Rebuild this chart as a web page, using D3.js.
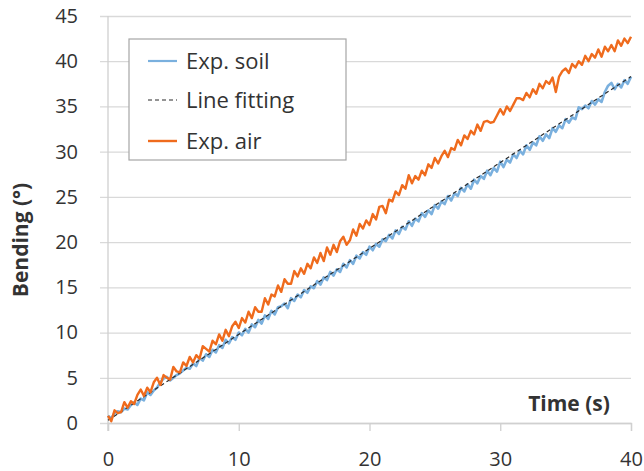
<!DOCTYPE html>
<html lang="en">
<head>
<meta charset="UTF-8">
<title>Bending vs time</title>
<style>
  body { margin: 0; background: #fff; }
  text { font-family: "Open Sans", Lato, sans-serif; fill: #333; }
</style>
</head>
<body>
<div id="chart"></div>
<script src="https://d3js.org/d3.v7.min.js"></script>
<script>
// samples every 0.25 s from 0 to 40 s
const timeStep = 0.25;
const expAir = [
  0.8, 0.2, 1.4, 1.1,   1.2, 2.3, 1.7, 2.4,   2.1, 3.1, 3.7, 3.0,   3.9, 3.4, 4.5, 5.0,
  4.2, 5.3, 5.0, 4.8,   6.2, 5.7, 5.6, 6.7,   6.3, 7.3, 6.7, 7.5,   7.1, 8.5, 8.2, 7.9,
  9.1, 8.7, 9.8, 9.1,   10.3, 9.6, 10.7, 11.2, 10.5, 11.6, 11.1, 12.3, 11.6, 12.8, 12.3, 12.3,
  13.8, 13.1, 14.2, 14.0, 15.2, 14.5, 15.9, 15.4, 15.4, 16.8, 16.2, 17.1, 16.5, 17.6, 17.1, 18.3,
  17.7, 18.8, 17.9, 19.4, 18.6, 19.7, 18.9, 20.1, 20.6, 19.7, 20.2, 21.4, 20.7, 22.0, 21.5, 22.4,
  21.9, 23.1, 22.5, 23.9, 24.0, 23.2, 24.7, 24.5, 25.6, 25.2, 26.3, 25.9, 27.4, 26.5, 27.3, 26.9,
  27.9, 27.4, 28.6, 28.2, 29.3, 28.7, 29.5, 30.1, 29.4, 30.4, 30.2, 31.3, 30.7, 31.8, 31.4, 32.3,
  31.9, 33.0, 32.3, 33.3, 33.4, 33.2, 33.3, 34.0, 34.7, 34.1, 35.0, 34.5, 35.2, 35.9, 35.9, 35.7,
  36.5, 36.0, 36.9, 36.4, 37.5, 37.0, 37.8, 37.5, 38.2, 36.6, 38.3, 38.9, 39.2, 38.7, 39.7, 39.3,
  40.0, 39.6, 40.6, 40.0, 40.8, 40.4, 41.3, 40.5, 41.6, 41.1, 41.8, 41.1, 42.3, 41.7, 42.5, 42.0,
  42.7
];
const expSoil = [
  0.8, 0.5, 1.1, 1.3,   1.2, 1.6, 1.5, 2.0,   2.3, 2.0, 2.7, 2.5,   3.4, 3.1, 3.6, 3.9,
  4.5, 4.9, 5.1, 4.7,   5.0, 5.3, 5.5, 5.8,   6.1, 6.0, 6.6, 6.3,   7.2, 6.9, 7.6, 7.3,
  8.1, 7.8, 8.6, 8.3,   9.2, 8.8, 9.5, 9.2,   10.0, 9.7, 10.4, 10.0, 10.9, 10.6, 11.4, 11.0,
  11.9, 11.5, 12.4, 12.0, 12.8, 12.9, 13.2, 12.7, 13.8, 13.5, 14.2, 13.9, 14.7, 14.4, 15.1, 14.9,
  15.7, 15.3, 16.1, 15.8, 16.7, 16.3, 17.0, 16.7, 17.6, 17.2, 18.0, 17.6, 18.5, 18.2, 18.9, 18.6,
  19.5, 19.1, 19.8, 19.5, 20.3, 20.1, 20.8, 20.4, 21.3, 20.9, 21.7, 21.4, 22.3, 21.8, 22.6, 22.3,
  23.2, 22.8, 23.5, 23.1, 24.1, 23.7, 24.5, 24.2, 25.1, 24.6, 25.4, 25.1, 26.0, 25.6, 26.4, 25.9,
  26.9, 26.5, 27.3, 27.0, 27.9, 27.4, 28.2, 27.8, 28.9, 28.3, 29.1, 28.8, 29.7, 29.3, 30.1, 29.7,
  30.7, 30.2, 31.0, 30.7, 31.7, 31.2, 31.9, 31.5, 32.6, 32.2, 32.9, 32.6, 33.6, 33.2, 33.8, 33.6,
  34.9, 34.7, 35.1, 34.8, 35.6, 35.2, 35.8, 35.5, 36.6, 37.3, 37.6, 36.9, 37.5, 37.1, 37.9, 37.5,
  38.3
];
const fitTimes = [0, 40];
const fitValues = [0.3, 38.3];
const xTicks = [0, 10, 20, 30, 40];
const yTicks = [0, 5, 10, 15, 20, 25, 30, 35, 40, 45];
const seriesNames = ["Exp. soil", "Line fitting", "Exp. air"];

const W = 644, H = 471;
const plot = {left: 108, right: 631, top: 16, bottom: 423};

const svg = d3.select("#chart").append("svg")
    .attr("width", W).attr("height", H);

const x = d3.scaleLinear().domain([0, 40]).range([plot.left, plot.right]);
const y = d3.scaleLinear().domain([0, 45]).range([plot.bottom, plot.top]);

// horizontal gridlines + y labels
const yAxis = svg.append("g")
    .attr("transform", `translate(${plot.left},0)`)
    .call(d3.axisLeft(y).tickValues(yTicks)
        .tickSizeInner(-(plot.right - plot.left)).tickPadding(22));
yAxis.select(".domain").remove();
yAxis.selectAll(".tick line")
    .attr("x1", -8).attr("stroke", "#d9d9d9").attr("stroke-width", 1.3);
yAxis.selectAll(".tick text")
    .attr("x", -30).attr("fill", "#333").style("font-size", "20px")
    .style("font-family", "'Open Sans', sans-serif");

// vertical axis line
svg.append("line")
    .attr("x1", plot.left).attr("x2", plot.left)
    .attr("y1", plot.top).attr("y2", plot.bottom + 8)
    .attr("stroke", "#d0d0d0").attr("stroke-width", 1.3);

// x axis
const xAxis = svg.append("g")
    .attr("transform", `translate(0,${plot.bottom})`)
    .call(d3.axisBottom(x).tickValues(xTicks).tickSize(8).tickPadding(21));
xAxis.select(".domain").attr("stroke", "#d0d0d0").attr("stroke-width", 1.3);
xAxis.selectAll(".tick line").attr("stroke", "#d0d0d0").attr("stroke-width", 1.3);
xAxis.selectAll(".tick text")
    .attr("fill", "#333").style("font-size", "20px")
    .style("font-family", "'Open Sans', sans-serif");

// series
const airData = expAir.map((v, i) => [i * timeStep, v]);
const soilData = expSoil.map((v, i) => [i * timeStep, v]);
const fitData = fitTimes.map((t, i) => [t, fitValues[i]]);
const line = d3.line().x(d => x(d[0])).y(d => y(d[1]));

svg.append("path").datum(soilData).attr("d", line)
    .attr("fill", "none").attr("stroke", "#7ab0de").attr("stroke-width", 2.6)
    .attr("stroke-linejoin", "round");
svg.append("path").datum(fitData).attr("d", line)
    .attr("fill", "none").attr("stroke", "#2b2b2b").attr("stroke-width", 1.2)
    .attr("stroke-dasharray", "4,3");
svg.append("path").datum(airData).attr("d", line)
    .attr("fill", "none").attr("stroke", "#ef6b1d").attr("stroke-width", 2.4)
    .attr("stroke-linejoin", "round");

// axis titles
svg.append("text")
    .attr("x", 569).attr("y", 411)
    .attr("text-anchor", "middle")
    .style("font-size", "21px").style("font-weight", "bold")
    .text("Time (s)");
svg.append("text")
    .attr("transform", "translate(28,240) rotate(-90)")
    .attr("text-anchor", "middle")
    .style("font-size", "21px").style("font-weight", "bold")
    .text("Bending (°)");

// legend
const legend = svg.append("g").attr("transform", "translate(129,39)");
legend.append("rect")
    .attr("width", 217).attr("height", 121)
    .attr("fill", "#fff").attr("stroke", "#a6a6a6").attr("stroke-width", 1.2);
const legendStyle = [
  {color: "#7ab0de", dash: null, w: 2.2},
  {color: "#2b2b2b", dash: "4,3", w: 1.2},
  {color: "#ef6b1d", dash: null, w: 2.4}
];
const rowY = [22, 61, 102];
seriesNames.forEach((name, i) => {
  legend.append("line")
      .attr("x1", 19).attr("x2", 48).attr("y1", rowY[i]).attr("y2", rowY[i])
      .attr("stroke", legendStyle[i].color).attr("stroke-width", legendStyle[i].w)
      .attr("stroke-dasharray", legendStyle[i].dash);
  legend.append("text")
      .attr("x", 57).attr("y", rowY[i]).attr("dy", "0.36em")
      .style("font-size", "22px")
      .text(name);
});
</script>
</body>
</html>
